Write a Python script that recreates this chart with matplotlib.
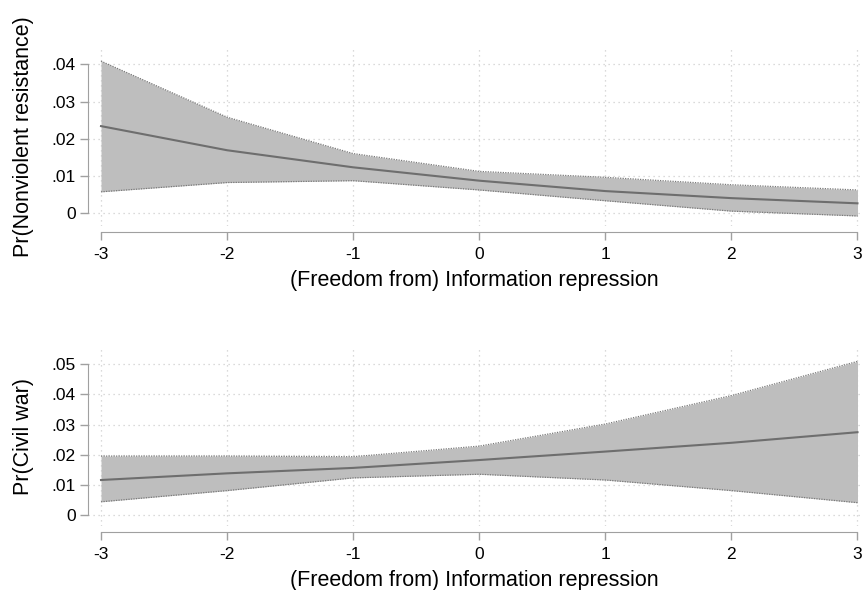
import matplotlib
matplotlib.use("Agg")
import matplotlib.pyplot as plt

plt.rcParams['font.family'] = ['Liberation Sans', 'DejaVu Sans']

# values
x = [-3, -2, -1, 0, 1, 2, 3]

nv_mean = [0.0234, 0.0169, 0.0123, 0.0087, 0.0059, 0.0040, 0.0026]
nv_upper = [0.0409, 0.0258, 0.0160, 0.0112, 0.0096, 0.0076, 0.0062]
nv_lower = [0.0057, 0.0082, 0.0087, 0.0062, 0.0033, 0.0005, -0.0008]

cw_mean = [0.0117, 0.0139, 0.0157, 0.0183, 0.0211, 0.0240, 0.0275]
cw_upper = [0.0196, 0.0196, 0.0194, 0.0229, 0.0302, 0.0396, 0.0509]
cw_lower = [0.0045, 0.0082, 0.0124, 0.0136, 0.0117, 0.0082, 0.0042]

xticks = [-3, -2, -1, 0, 1, 2, 3]
nv_yticks = [0, 0.01, 0.02, 0.03, 0.04]
nv_ylabels = ['0', '.01', '.02', '.03', '.04']
cw_yticks = [0, 0.01, 0.02, 0.03, 0.04, 0.05]
cw_ylabels = ['0', '.01', '.02', '.03', '.04', '.05']

xlabel = '(Freedom from) Information repression'

fig = plt.figure(figsize=(8.63, 5.9), dpi=100)
ax1 = fig.add_axes([0.102, 0.617, 0.896, 0.302])
ax2 = fig.add_axes([0.102, 0.1085, 0.896, 0.302])


def panel(ax, mean, upper, lower, yticks, ylabels, ylim, ylabel):
    ax.fill_between(x, lower, upper, color='#bebebe', linewidth=0, zorder=2)
    ax.plot(x, upper, color='#7a7a7a', lw=0.9, ls=(0, (1, 1)), zorder=3)
    ax.plot(x, lower, color='#7a7a7a', lw=0.9, ls=(0, (1, 1)), zorder=3)
    ax.plot(x, mean, color='#6e6e6e', lw=1.5, zorder=4)

    ax.set_xlim(-3.103, 3.03)
    ax.set_ylim(*ylim)
    ax.set_xticks(xticks)
    ax.set_xticklabels([str(t) for t in xticks])
    ax.set_yticks(yticks)
    ax.set_yticklabels(ylabels)

    ax.grid(True, color='#cfcfcf', ls=(0, (1, 3)), lw=0.9, zorder=0)
    for s in ['top', 'right']:
        ax.spines[s].set_visible(False)
    ax.spines['left'].set_color('#a0a0a0')
    ax.spines['bottom'].set_color('#a0a0a0')
    ax.spines['left'].set_bounds(yticks[0], yticks[-1])
    ax.spines['bottom'].set_bounds(-3, 3)
    ax.spines['bottom'].set_position(('outward', 4))
    ax.tick_params(colors='#a0a0a0', labelcolor='black', labelsize=12.5,
                   length=6, width=1)
    ax.tick_params(axis='y', pad=3)
    ax.tick_params(axis='x', pad=5)
    ax.set_xlabel(xlabel, fontsize=15.5, labelpad=6)
    ax.set_ylabel(ylabel, fontsize=15.5)
    ax.yaxis.set_label_coords(-0.07, 0.5)


panel(ax1, nv_mean, nv_upper, nv_lower, nv_yticks, nv_ylabels,
      (-0.0035, 0.0445), 'Pr(Nonviolent resistance)')
panel(ax2, cw_mean, cw_upper, cw_lower, cw_yticks, cw_ylabels,
      (-0.0035, 0.0554), 'Pr(Civil war)')

fig.savefig('out.png', dpi=100)
